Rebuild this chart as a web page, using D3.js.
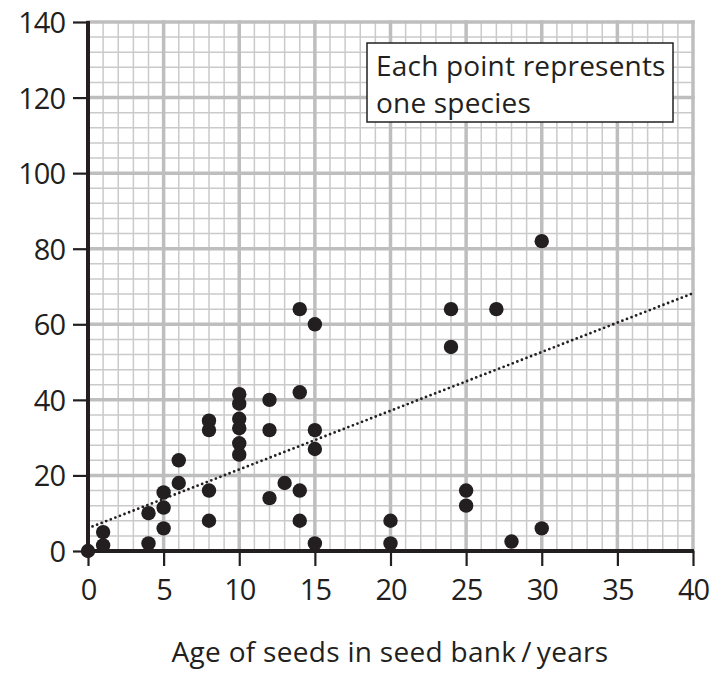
<!DOCTYPE html>
<html><head><meta charset="utf-8">
<script src="https://cdn.jsdelivr.net/npm/d3@7"></script>
<style>html,body{margin:0;padding:0;background:#fff;}svg{display:block;}</style>
</head><body>
<svg id="c" width="717" height="675"></svg>
<script>
const seedAge = [0,1,1,4,4,5,5,5,6,6,8,8,8,8,10,10,10,10,10,10,12,12,12,13,14,14,14,14,15,15,15,15,20,20,24,24,25,25,27,28,30,30];
const seedCount = [0,5,1.5,10,2,15.5,11.5,6,24,18,34.5,32,16,8,41.5,39,35,32.5,28.5,25.5,40,32,14,18,64,42,16,8,60,32,27,2,8,2,64,54,16,12,64,2.5,82,6];
const trendX = [0.3,40];
const trendY = [6.5,68.2];
const xTicks = [0,5,10,15,20,25,30,35,40];
const yTicks = [0,20,40,60,80,100,120,140];
const xTitle = "Age of seeds in seed bank\u2009/\u2009years";
const noteLines = ["Each point represents","one species"];

const svg = d3.select("#c");
const font = "'Open Sans', sans-serif";
const x = d3.scaleLinear().domain([0,40]).range([88,693]);
const y = d3.scaleLinear().domain([0,140]).range([551,22]);

const grid = svg.append("g");
grid.selectAll(".mx").data(d3.range(0,41,1)).join("line")
  .attr("x1",d=>x(d)).attr("x2",d=>x(d)).attr("y1",y(0)).attr("y2",y(140))
  .attr("stroke","#cacaca").attr("stroke-width",1.5);
grid.selectAll(".my").data(d3.range(0,141,4)).join("line")
  .attr("y1",d=>y(d)).attr("y2",d=>y(d)).attr("x1",x(0)).attr("x2",x(40))
  .attr("stroke","#cacaca").attr("stroke-width",1.5);
grid.selectAll(".Mx").data(d3.range(0,41,5)).join("line")
  .attr("x1",d=>x(d)).attr("x2",d=>x(d)).attr("y1",y(0)).attr("y2",y(140)-1.75)
  .attr("stroke","#bebebe").attr("stroke-width",3.5);
grid.selectAll(".My").data(d3.range(0,141,20)).join("line")
  .attr("y1",d=>y(d)).attr("y2",d=>y(d)).attr("x1",x(0)).attr("x2",x(40)+1.75)
  .attr("stroke","#bebebe").attr("stroke-width",3.5);

const xAxis = d3.axisBottom(x).tickValues(xTicks).tickSize(15).tickPadding(8).tickFormat(d3.format("d"));
const yAxis = d3.axisLeft(y).tickValues(yTicks).tickSize(15).tickPadding(8).tickFormat(d3.format("d"));
const gx = svg.append("g").attr("transform",`translate(0,${y(0)})`).call(xAxis);
const gy = svg.append("g").attr("transform",`translate(${x(0)},0)`).call(yAxis);
[gx,gy].forEach(g=>{
  g.select(".domain").remove();
  g.selectAll(".tick line").attr("stroke","#231f20").attr("stroke-width",2.2);
  g.selectAll(".tick text").attr("fill","#231f20").style("font-family",font).style("font-size","29px").style("letter-spacing","-1px");
});
gx.selectAll(".tick text").attr("dy","0.9em");
gy.selectAll(".tick text").attr("dy","0.36em").attr("x",-23);
svg.append("line").attr("x1",x(0)).attr("x2",x(0)).attr("y1",y(140)-1).attr("y2",y(0)+2)
  .attr("stroke","#231f20").attr("stroke-width",4);
svg.append("line").attr("x1",x(0)-2).attr("x2",x(40)+1).attr("y1",y(0)).attr("y2",y(0))
  .attr("stroke","#231f20").attr("stroke-width",4);

svg.append("line").attr("x1",x(trendX[0])).attr("y1",y(trendY[0])).attr("x2",x(trendX[1])).attr("y2",y(trendY[1]))
  .attr("stroke","#231f20").attr("stroke-width",2.8).attr("stroke-linecap","round").attr("stroke-dasharray","0 4.9");

svg.append("g").selectAll("circle").data(seedAge.map((d,i)=>[d,seedCount[i]])).join("circle")
  .attr("cx",d=>x(d[0])).attr("cy",d=>y(d[1])).attr("r",7.2).attr("fill","#231f20");

const note = svg.append("g");
note.append("rect").attr("x",367).attr("y",43).attr("width",306).attr("height",79)
  .attr("fill","#fff").attr("stroke","#231f20").attr("stroke-width",1.5);
note.selectAll("text").data(noteLines).join("text")
  .attr("x",376).attr("y",(d,i)=>76+i*37).text(d=>d)
  .attr("fill","#231f20").style("font-family",font).style("font-size","28px").style("letter-spacing","0.2px");

svg.append("text").attr("x",390).attr("y",662).attr("text-anchor","middle").text(xTitle)
  .attr("fill","#231f20").style("font-family",font).style("font-size","28px").style("letter-spacing","0.3px");
</script>
</body></html>
